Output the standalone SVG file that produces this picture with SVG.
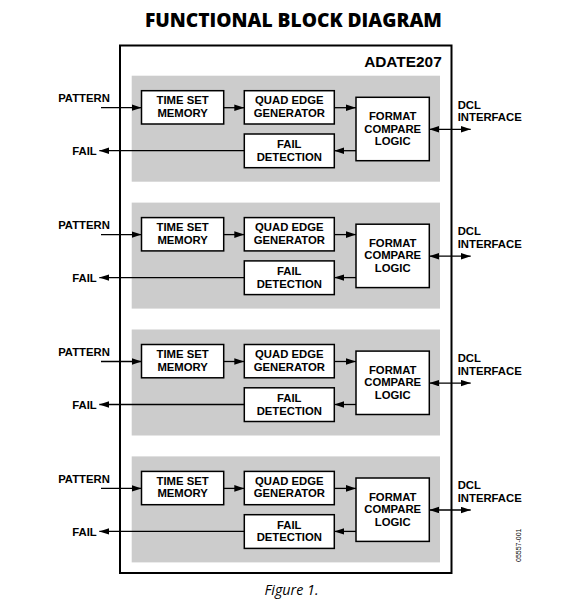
<svg xmlns="http://www.w3.org/2000/svg" width="572" height="607" viewBox="0 0 572 607">
<style>
.lbl{font-family:"Liberation Sans",Arial,sans-serif;font-weight:bold;font-size:11.3px;fill:#000}
.box{fill:#fff;stroke:#000;stroke-width:1.5}
.panel{fill:#cccccc;stroke:none}
.conn{stroke:#000;stroke-width:1.3;fill:none;marker-end:url(#ah)}
.bi{marker-start:url(#ah)}
</style>
<defs>
<marker id="ah" markerUnits="userSpaceOnUse" markerWidth="12" markerHeight="8" refX="10" refY="3.3" orient="auto-start-reverse" viewBox="0 0 12 8">
<path d="M0,0 L10,3.3 L0,6.6 z" fill="#000"/>
</marker>
</defs>
<rect width="572" height="607" fill="#fff"/>
<text x="293.4" y="27.3" text-anchor="middle" textLength="297" lengthAdjust="spacingAndGlyphs" style="font-family:'Open Sans','Noto Sans',sans-serif;font-weight:800;font-size:19.8px">FUNCTIONAL BLOCK DIAGRAM</text>
<g id="chip">
<rect x="120" y="45.5" width="331.5" height="527.5" fill="none" stroke="#000" stroke-width="2"/>
<text x="441.7" y="66.7" text-anchor="end" class="lbl" style="font-size:15.4px">ADATE207</text>
</g>
<g id="channel1">
<rect class="panel" x="131.7" y="75.7" width="308.3" height="106"/>
<g id="tsm1"><rect class="box" x="141.5" y="90.7" width="82.2" height="33.3"/><text class="lbl" text-anchor="middle" x="182.6" y="104.4">TIME SET</text><text class="lbl" text-anchor="middle" x="182.6" y="116.8">MEMORY</text></g>
<g id="qeg1"><rect class="box" x="244.3" y="90.7" width="90" height="33.3"/><text class="lbl" text-anchor="middle" x="289.3" y="104.4">QUAD EDGE</text><text class="lbl" text-anchor="middle" x="289.3" y="116.8">GENERATOR</text></g>
<g id="fd1"><rect class="box" x="244.3" y="134" width="90" height="33.7"/><text class="lbl" text-anchor="middle" x="289.3" y="148.4">FAIL</text><text class="lbl" text-anchor="middle" x="289.3" y="160.8">DETECTION</text></g>
<g id="fcl1"><rect class="box" x="356" y="97.3" width="73.3" height="63.4"/><text class="lbl" text-anchor="middle" x="392.7" y="120.2">FORMAT</text><text class="lbl" text-anchor="middle" x="392.7" y="132.6">COMPARE</text><text class="lbl" text-anchor="middle" x="392.7" y="145">LOGIC</text></g>
<text class="lbl" text-anchor="middle" x="84" y="102">PATTERN</text>
<text class="lbl" text-anchor="end" x="96.7" y="155">FAIL</text>
<text class="lbl" x="457.7" y="108.6">DCL</text><text class="lbl" x="457.7" y="121">INTERFACE</text>
</g>
<g id="channel2" transform="translate(0,126.9)">
<rect class="panel" x="131.7" y="75.7" width="308.3" height="106"/>
<g id="tsm2"><rect class="box" x="141.5" y="90.7" width="82.2" height="33.3"/><text class="lbl" text-anchor="middle" x="182.6" y="104.4">TIME SET</text><text class="lbl" text-anchor="middle" x="182.6" y="116.8">MEMORY</text></g>
<g id="qeg2"><rect class="box" x="244.3" y="90.7" width="90" height="33.3"/><text class="lbl" text-anchor="middle" x="289.3" y="104.4">QUAD EDGE</text><text class="lbl" text-anchor="middle" x="289.3" y="116.8">GENERATOR</text></g>
<g id="fd2"><rect class="box" x="244.3" y="134" width="90" height="33.7"/><text class="lbl" text-anchor="middle" x="289.3" y="148.4">FAIL</text><text class="lbl" text-anchor="middle" x="289.3" y="160.8">DETECTION</text></g>
<g id="fcl2"><rect class="box" x="356" y="97.3" width="73.3" height="63.4"/><text class="lbl" text-anchor="middle" x="392.7" y="120.2">FORMAT</text><text class="lbl" text-anchor="middle" x="392.7" y="132.6">COMPARE</text><text class="lbl" text-anchor="middle" x="392.7" y="145">LOGIC</text></g>
<text class="lbl" text-anchor="middle" x="84" y="102">PATTERN</text>
<text class="lbl" text-anchor="end" x="96.7" y="155">FAIL</text>
<text class="lbl" x="457.7" y="108.6">DCL</text><text class="lbl" x="457.7" y="121">INTERFACE</text>
</g>
<g id="channel3" transform="translate(0,253.8)">
<rect class="panel" x="131.7" y="75.7" width="308.3" height="106"/>
<g id="tsm3"><rect class="box" x="141.5" y="90.7" width="82.2" height="33.3"/><text class="lbl" text-anchor="middle" x="182.6" y="104.4">TIME SET</text><text class="lbl" text-anchor="middle" x="182.6" y="116.8">MEMORY</text></g>
<g id="qeg3"><rect class="box" x="244.3" y="90.7" width="90" height="33.3"/><text class="lbl" text-anchor="middle" x="289.3" y="104.4">QUAD EDGE</text><text class="lbl" text-anchor="middle" x="289.3" y="116.8">GENERATOR</text></g>
<g id="fd3"><rect class="box" x="244.3" y="134" width="90" height="33.7"/><text class="lbl" text-anchor="middle" x="289.3" y="148.4">FAIL</text><text class="lbl" text-anchor="middle" x="289.3" y="160.8">DETECTION</text></g>
<g id="fcl3"><rect class="box" x="356" y="97.3" width="73.3" height="63.4"/><text class="lbl" text-anchor="middle" x="392.7" y="120.2">FORMAT</text><text class="lbl" text-anchor="middle" x="392.7" y="132.6">COMPARE</text><text class="lbl" text-anchor="middle" x="392.7" y="145">LOGIC</text></g>
<text class="lbl" text-anchor="middle" x="84" y="102">PATTERN</text>
<text class="lbl" text-anchor="end" x="96.7" y="155">FAIL</text>
<text class="lbl" x="457.7" y="108.6">DCL</text><text class="lbl" x="457.7" y="121">INTERFACE</text>
</g>
<g id="channel4" transform="translate(0,380.7)">
<rect class="panel" x="131.7" y="75.7" width="308.3" height="106"/>
<g id="tsm4"><rect class="box" x="141.5" y="90.7" width="82.2" height="33.3"/><text class="lbl" text-anchor="middle" x="182.6" y="104.4">TIME SET</text><text class="lbl" text-anchor="middle" x="182.6" y="116.8">MEMORY</text></g>
<g id="qeg4"><rect class="box" x="244.3" y="90.7" width="90" height="33.3"/><text class="lbl" text-anchor="middle" x="289.3" y="104.4">QUAD EDGE</text><text class="lbl" text-anchor="middle" x="289.3" y="116.8">GENERATOR</text></g>
<g id="fd4"><rect class="box" x="244.3" y="134" width="90" height="33.7"/><text class="lbl" text-anchor="middle" x="289.3" y="148.4">FAIL</text><text class="lbl" text-anchor="middle" x="289.3" y="160.8">DETECTION</text></g>
<g id="fcl4"><rect class="box" x="356" y="97.3" width="73.3" height="63.4"/><text class="lbl" text-anchor="middle" x="392.7" y="120.2">FORMAT</text><text class="lbl" text-anchor="middle" x="392.7" y="132.6">COMPARE</text><text class="lbl" text-anchor="middle" x="392.7" y="145">LOGIC</text></g>
<text class="lbl" text-anchor="middle" x="84" y="102">PATTERN</text>
<text class="lbl" text-anchor="end" x="96.7" y="155">FAIL</text>
<text class="lbl" x="457.7" y="108.6">DCL</text><text class="lbl" x="457.7" y="121">INTERFACE</text>
</g>
<g id="connectors">
<g transform="translate(0,0)">
<line class="conn" x1="101" y1="107.7" x2="141.5" y2="107.7"/>
<line class="conn" x1="223.7" y1="107.7" x2="244.3" y2="107.7"/>
<line class="conn" x1="334.3" y1="107.7" x2="356" y2="107.7"/>
<line class="conn" x1="356" y1="150.7" x2="334.3" y2="150.7"/>
<line class="conn" x1="244.3" y1="150.7" x2="99.3" y2="150.7"/>
<line class="conn bi" x1="429.3" y1="129.3" x2="470.7" y2="129.3"/>
</g>
<g transform="translate(0,126.9)">
<line class="conn" x1="101" y1="107.7" x2="141.5" y2="107.7"/>
<line class="conn" x1="223.7" y1="107.7" x2="244.3" y2="107.7"/>
<line class="conn" x1="334.3" y1="107.7" x2="356" y2="107.7"/>
<line class="conn" x1="356" y1="150.7" x2="334.3" y2="150.7"/>
<line class="conn" x1="244.3" y1="150.7" x2="99.3" y2="150.7"/>
<line class="conn bi" x1="429.3" y1="129.3" x2="470.7" y2="129.3"/>
</g>
<g transform="translate(0,253.8)">
<line class="conn" x1="101" y1="107.7" x2="141.5" y2="107.7"/>
<line class="conn" x1="223.7" y1="107.7" x2="244.3" y2="107.7"/>
<line class="conn" x1="334.3" y1="107.7" x2="356" y2="107.7"/>
<line class="conn" x1="356" y1="150.7" x2="334.3" y2="150.7"/>
<line class="conn" x1="244.3" y1="150.7" x2="99.3" y2="150.7"/>
<line class="conn bi" x1="429.3" y1="129.3" x2="470.7" y2="129.3"/>
</g>
<g transform="translate(0,380.7)">
<line class="conn" x1="101" y1="107.7" x2="141.5" y2="107.7"/>
<line class="conn" x1="223.7" y1="107.7" x2="244.3" y2="107.7"/>
<line class="conn" x1="334.3" y1="107.7" x2="356" y2="107.7"/>
<line class="conn" x1="356" y1="150.7" x2="334.3" y2="150.7"/>
<line class="conn" x1="244.3" y1="150.7" x2="99.3" y2="150.7"/>
<line class="conn bi" x1="429.3" y1="129.3" x2="470.7" y2="129.3"/>
</g>
</g>
<text transform="translate(521,562) rotate(-90)" style="font-family:'Liberation Sans',Arial,sans-serif;font-size:7px;fill:#000">05557-001</text>
<text x="291.5" y="595" text-anchor="middle" textLength="54" lengthAdjust="spacingAndGlyphs" style="font-family:'Open Sans','Noto Sans',sans-serif;font-style:italic;font-size:14.5px;fill:#000">Figure 1.</text>
</svg>
